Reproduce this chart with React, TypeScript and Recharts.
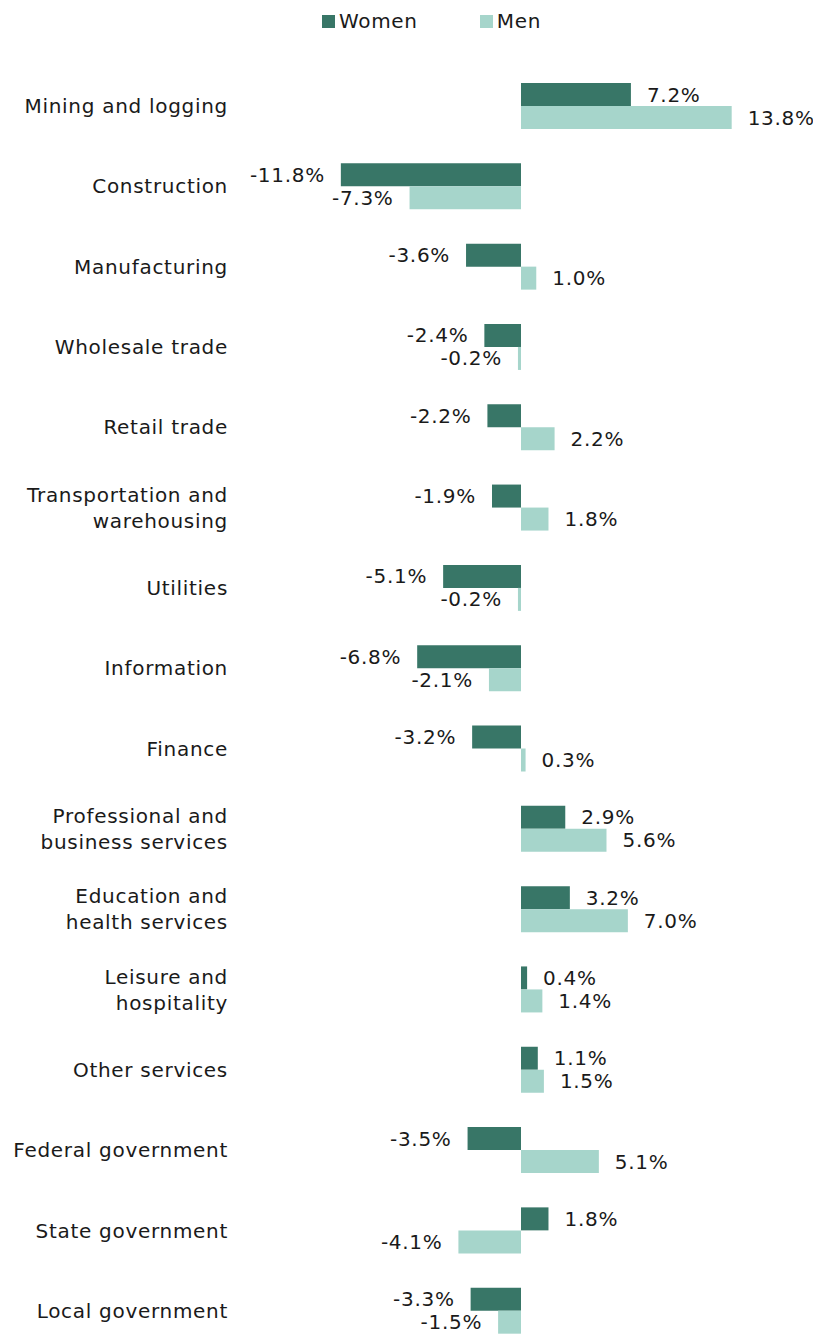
import { BarChart, Bar, XAxis, YAxis, Legend, LabelList } from 'recharts';

const categories = [
  'Mining and logging',
  'Construction',
  'Manufacturing',
  'Wholesale trade',
  'Retail trade',
  'Transportation and\nwarehousing',
  'Utilities',
  'Information',
  'Finance',
  'Professional and\nbusiness services',
  'Education and\nhealth services',
  'Leisure and\nhospitality',
  'Other services',
  'Federal government',
  'State government',
  'Local government',
];

const women = [7.2, -11.8, -3.6, -2.4, -2.2, -1.9, -5.1, -6.8, -3.2, 2.9, 3.2, 0.4, 1.1, -3.5, 1.8, -3.3];
const men = [13.8, -7.3, 1.0, -0.2, 2.2, 1.8, -0.2, -2.1, 0.3, 5.6, 7.0, 1.4, 1.5, 5.1, -4.1, -1.5];

const WOMEN_COLOR = '#387667';
const MEN_COLOR = '#a6d5cb';
const FONT = '"DejaVu Sans", Verdana, sans-serif';
const TEXT = '#1a1a1a';
const FS = 20;
const LS = 0.7;

const data = categories.map((name, i) => ({ name, women: women[i], men: men[i] }));

function CategoryTick(props: any) {
  const { x, y, payload } = props;
  const lines = String(payload.value).split('\n');
  const lh = 26;
  const start = -((lines.length - 1) * lh) / 2;
  return (
    <text
      x={x}
      y={y}
      textAnchor="end"
      fill={TEXT}
      fontSize={FS}
      fontFamily={FONT}
      letterSpacing={LS}
    >
      {lines.map((l, i) => (
        <tspan key={i} x={x} dy={i === 0 ? start + 7 : lh}>
          {l}
        </tspan>
      ))}
    </text>
  );
}

function ValueLabel(props: any) {
  const { x, y, width, height, value } = props;
  const left = Math.min(x, x + width);
  const right = Math.max(x, x + width);
  const neg = value < 0;
  return (
    <text
      x={neg ? left - 16 : right + 16}
      y={y + height / 2 + 7}
      textAnchor={neg ? 'end' : 'start'}
      fill={TEXT}
      fontSize={FS}
      fontFamily={FONT}
      letterSpacing={LS}
    >
      {`${value.toFixed(1)}%`}
    </text>
  );
}

function LegendBox() {
  const item = (color: string, label: string) => (
    <div style={{ display: 'flex', alignItems: 'center', gap: 4 }}>
      <span style={{ width: 13, height: 13, background: color, display: 'inline-block' }} />
      <span style={{ fontSize: FS, color: TEXT, fontFamily: FONT, letterSpacing: LS }}>{label}</span>
    </div>
  );
  return (
    <div style={{ display: 'flex', justifyContent: 'center', gap: 62, paddingLeft: 105 }}>
      {item(WOMEN_COLOR, 'Women')}
      {item(MEN_COLOR, 'Men')}
    </div>
  );
}

export default function App() {
  return (
    <div style={{ width: 813, height: 1343, fontFamily: FONT }}>
      <BarChart
        width={813}
        height={1343}
        data={data}
        layout="vertical"
        margin={{ top: 58, right: 71, bottom: 0, left: 0 }}
        barGap={0}
        barSize={23}
      >
        <XAxis type="number" domain={[-15, 15]} hide />
        <YAxis
          type="category"
          dataKey="name"
          width={284}
          axisLine={false}
          tickLine={false}
          tickSize={0}
          tickMargin={64}
          interval={0}
          tick={<CategoryTick />}
        />
        <Legend
          verticalAlign="middle"
          align="center"
          layout="horizontal"
          wrapperStyle={{ top: 1 }}
          content={<LegendBox />}
        />
        <Bar dataKey="women" name="Women" fill={WOMEN_COLOR} isAnimationActive={false}>
          <LabelList dataKey="women" content={<ValueLabel />} />
        </Bar>
        <Bar dataKey="men" name="Men" fill={MEN_COLOR} isAnimationActive={false}>
          <LabelList dataKey="men" content={<ValueLabel />} />
        </Bar>
      </BarChart>
    </div>
  );
}
